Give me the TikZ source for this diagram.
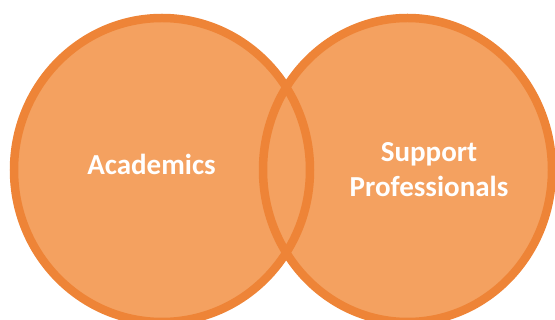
\documentclass[tikz,border=0pt]{standalone}
\usepackage{fontspec}
\setmainfont{Carlito}
\definecolor{vfill}{RGB}{244,161,96}
\definecolor{vline}{RGB}{238,132,55}
\begin{document}
\begin{tikzpicture}[x=1pt,y=-1pt,
  setfill/.style={fill=vfill,draw=none},
  setline/.style={draw=vline,line width=8.5pt},
  lbl/.style={text=white,font=\bfseries\fontsize{29}{35}\selectfont,inner sep=0pt,align=center}]
\useasboundingbox (0,0) rectangle (555,320);
\coordinate (cl) at (162,170);
\coordinate (cr) at (407.5,170);
\fill[setfill] (cl) ellipse [x radius=148, y radius=152];
\fill[setfill] (cr) ellipse [x radius=144.5, y radius=152];
\draw[setline] (cl) ellipse [x radius=148, y radius=152];
\draw[setline] (cr) ellipse [x radius=144.5, y radius=152];
\node[lbl,anchor=base] (a) at (151.5,175) {Academics};
\node[lbl,anchor=center] (s) at (429,169.5) {Support\\Professionals};
\end{tikzpicture}
\end{document}
